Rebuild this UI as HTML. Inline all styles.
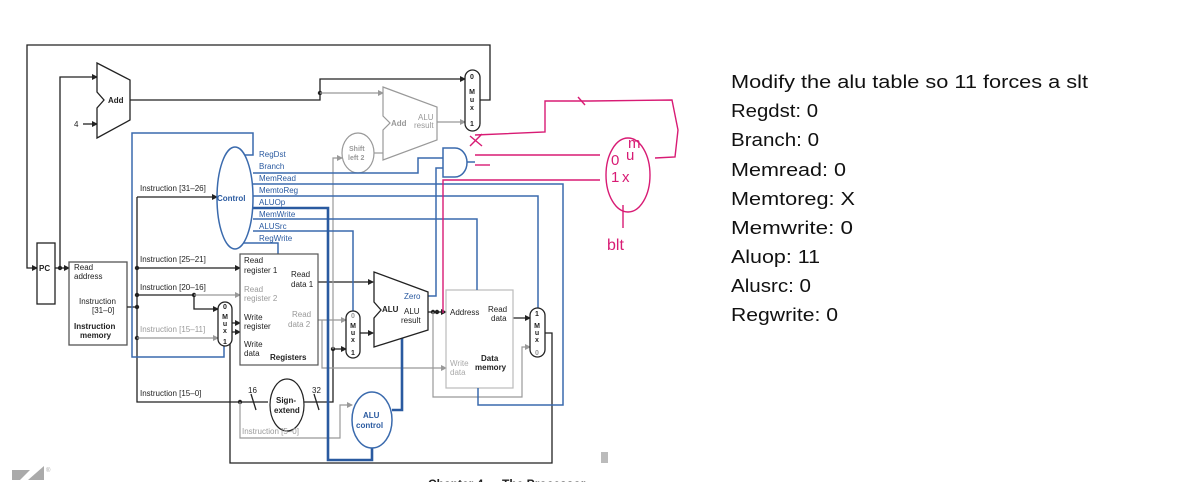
<!DOCTYPE html>
<html><head><meta charset="utf-8"><style>
html,body{margin:0;padding:0;background:#fff;}
svg{display:block;}
text{font-family:"Liberation Sans",sans-serif;}
</style></head><body>
<svg width="1179" height="498" viewBox="0 0 1179 498" xmlns="http://www.w3.org/2000/svg">
<defs>
<marker id="ak" markerWidth="6" markerHeight="6" refX="5" refY="3" orient="auto" markerUnits="userSpaceOnUse"><path d="M0,0 L6,3 L0,6z" fill="#222"/></marker>
<marker id="ag" markerWidth="6" markerHeight="6" refX="5" refY="3" orient="auto" markerUnits="userSpaceOnUse"><path d="M0,0 L6,3 L0,6z" fill="#999"/></marker>
</defs>
<g fill="none" stroke="#222" stroke-width="1.3">
<polyline points="480,100 490,100 490,45 27,45 27,268 37,268" marker-end="url(#ak)"/>
<polyline points="60,268 60,77 97,77" marker-end="url(#ak)"/>
<line x1="83" y1="124" x2="97" y2="124" marker-end="url(#ak)"/>
<polyline points="130,100 320,100 320,79 465,79" marker-end="url(#ak)"/>
<polygon points="97,63 130,80 130,120 97,138 97,108 104,100 97,92" fill="#fff"/>
<rect x="37" y="243" width="18" height="61" fill="#fff"/>
<line x1="55" y1="268" x2="69" y2="268" marker-end="url(#ak)"/>
<rect x="69" y="262" width="58" height="83" stroke="#555" fill="#fff"/>
<line x1="127" y1="307" x2="137" y2="307"/>
<polyline points="137,197 137,402 240,402 268,402"/>
<line x1="137" y1="197" x2="217" y2="197" marker-end="url(#ak)"/>
<line x1="137" y1="268" x2="240" y2="268" marker-end="url(#ak)"/>
<line x1="137" y1="295" x2="194" y2="295"/>
<polyline points="194,295 194,309 218,309" marker-end="url(#ak)"/>
<line x1="232" y1="323" x2="240" y2="323" marker-end="url(#ak)"/>
<line x1="318" y1="282" x2="373" y2="282" marker-end="url(#ak)"/>
<line x1="360" y1="333" x2="373" y2="333" marker-end="url(#ak)"/>
<polyline points="304,402 333,402 333,349 346,349" marker-end="url(#ak)"/>
<polyline points="545,333 552,333 552,463 230,463 230,332 240,332" marker-end="url(#ak)"/>
<line x1="428" y1="312" x2="446" y2="312" marker-end="url(#ak)"/>
<line x1="513" y1="318" x2="530" y2="318" marker-end="url(#ak)"/>
<line x1="251" y1="394" x2="256" y2="410"/>
<line x1="314" y1="394" x2="319" y2="410"/>
</g>
<g fill="#222">
<circle cx="320" cy="93" r="2.2"/><circle cx="60" cy="268" r="2.2"/>
<circle cx="137" cy="268" r="2.2"/><circle cx="137" cy="295" r="2.2"/><circle cx="137" cy="307" r="2.2"/><circle cx="137" cy="338" r="2.2"/>
<circle cx="194" cy="295" r="2.2"/><circle cx="240" cy="402" r="2.2"/><circle cx="333" cy="349" r="2.2"/>
<circle cx="433" cy="312" r="2.2"/><circle cx="437" cy="312" r="2.2"/>
</g>
<g fill="none" stroke="#999" stroke-width="1.2">
<line x1="320" y1="93" x2="383" y2="93" marker-end="url(#ag)"/>
<line x1="437" y1="122" x2="465" y2="122" marker-end="url(#ag)"/>
<polygon points="383,87 437,107 437,140 383,160 383,130 390,123 383,116" fill="#fff"/>
<ellipse cx="358" cy="153" rx="16" ry="20" fill="#fff"/>
<polyline points="333,349 333,158 342,158" marker-end="url(#ag)"/>
<line x1="374" y1="153" x2="383" y2="153"/>
<line x1="194" y1="295" x2="240" y2="295" marker-end="url(#ag)"/>
<line x1="137" y1="338" x2="218" y2="338" marker-end="url(#ag)"/>
<line x1="318" y1="320" x2="346" y2="320" marker-end="url(#ag)"/>
<polyline points="322,320 322,368 446,368" marker-end="url(#ag)"/>
<polyline points="240,402 240,438 340,438 340,405 352,405" marker-end="url(#ag)"/>
<polyline points="433,312 433,397 522,397 522,347 530,347" marker-end="url(#ag)"/>
<rect x="446" y="290" width="67" height="98" fill="none" stroke="#bbb"/>
</g>
<g fill="none" stroke="#3a6aad" stroke-width="1.5">
<polyline points="245,155 253,155 253,133 132,133 132,357 224,357 224,346"/>
<polyline points="253,173 418,173 418,158 443,158"/>
<polyline points="253,184 563,184 563,405 478,405 478,388"/>
<polyline points="253,196 538,196 538,308"/>
<polyline points="253,219 477,219 477,290"/>
<polyline points="253,231 353,231 353,311"/>
<polyline points="243,243 278,243 278,254"/>
<polyline points="428,296 436,296 436,168 443,168"/>
<path d="M443,148 L455,148 A12,14.5 0 0 1 455,177 L443,177 Z" fill="#fff"/>
<line x1="467" y1="162" x2="475" y2="162"/>
</g>
<g fill="none" stroke="#2a5aa0" stroke-width="2.6">
<polyline points="253,208 328,208 328,460 372,460 372,448"/>
<polyline points="392,410 402,410 402,338"/>
</g>
<ellipse cx="235" cy="198" rx="18" ry="51" fill="#fff" stroke="#3a6aad" stroke-width="1.5"/>
<ellipse cx="372" cy="420" rx="20" ry="28" fill="#fff" stroke="#3a6aad" stroke-width="1.5"/>
<rect x="240" y="254" width="78" height="111" fill="#fff" stroke="#555" stroke-width="1.2"/>
<ellipse cx="287" cy="405" rx="17" ry="26" fill="#fff" stroke="#222" stroke-width="1.2"/>
<polygon points="374,272 428,292 428,330 374,347 374,318 381,310 374,302" fill="#fff" stroke="#222" stroke-width="1.3"/>
<g fill="#fff" stroke="#222" stroke-width="1.3">
<rect x="465" y="70" width="15" height="61" rx="7.5"/>
<rect x="218" y="302" width="14" height="44" rx="7"/>
<rect x="346" y="311" width="14" height="47" rx="7"/>
<rect x="530" y="308" width="15" height="49" rx="7.5"/>
</g>
<g font-size="8" fill="#222">
<text x="108" y="103" font-weight="bold">Add</text>
<text x="74" y="127">4</text>
<text x="39" y="271" font-weight="bold">PC</text>
<text x="74" y="270">Read</text><text x="74" y="279">address</text>
<text x="79" y="304">Instruction</text><text x="92" y="313">[31–0]</text>
<text x="74" y="329" font-weight="bold">Instruction</text><text x="80" y="338" font-weight="bold">memory</text>
<text x="140" y="191">Instruction [31–26]</text>
<text x="140" y="262">Instruction [25–21]</text>
<text x="140" y="290">Instruction [20–16]</text>
<text x="140" y="332" fill="#999">Instruction [15–11]</text>
<text x="140" y="396">Instruction [15–0]</text>
<text x="242" y="434" fill="#999">Instruction [5–0]</text>
<text x="244" y="263">Read</text><text x="244" y="273">register 1</text>
<text x="291" y="277">Read</text><text x="291" y="287">data 1</text>
<text x="244" y="292" fill="#999">Read</text><text x="244" y="301" fill="#999">register 2</text>
<text x="244" y="320">Write</text><text x="244" y="329">register</text>
<text x="292" y="317" fill="#999">Read</text><text x="288" y="327" fill="#999">data 2</text>
<text x="244" y="347">Write</text><text x="244" y="356">data</text>
<text x="270" y="360" font-weight="bold">Registers</text>
<text x="248" y="393">16</text><text x="312" y="393">32</text>
<text x="276" y="403" font-weight="bold">Sign-</text><text x="274" y="413" font-weight="bold">extend</text>
<text x="382" y="312" font-weight="bold">ALU</text>
<text x="404" y="314">ALU</text><text x="401" y="323">result</text>
<text x="450" y="315">Address</text>
<text x="488" y="312">Read</text><text x="491" y="321">data</text>
<text x="450" y="366" fill="#aaa">Write</text><text x="450" y="375" fill="#aaa">data</text>
<text x="481" y="361" font-weight="bold">Data</text><text x="475" y="370" font-weight="bold">memory</text>
<text x="391" y="126" fill="#999" font-weight="bold">Add</text>
<text x="418" y="120" fill="#999">ALU</text><text x="414" y="128" fill="#999">result</text>
<text x="349" y="151" fill="#999" font-weight="bold" font-size="7">Shift</text>
<text x="348" y="160" fill="#999" font-weight="bold" font-size="7">left 2</text>
</g>
<g font-size="8" fill="#2a5aa0">
<text x="259" y="157">RegDst</text><text x="259" y="169">Branch</text><text x="259" y="181">MemRead</text>
<text x="259" y="193">MemtoReg</text><text x="259" y="205">ALUOp</text><text x="259" y="217">MemWrite</text>
<text x="259" y="229">ALUSrc</text><text x="259" y="241">RegWrite</text>
<text x="217" y="201" font-weight="bold">Control</text>
<text x="404" y="299">Zero</text>
<text x="363" y="418" font-weight="bold">ALU</text><text x="356" y="428" font-weight="bold">control</text>
</g>
<g font-size="7" font-weight="bold" fill="#222" text-anchor="middle">
<text x="472" y="79">0</text><text x="472" y="94">M</text><text x="472" y="102">u</text><text x="472" y="110">x</text><text x="472" y="126">1</text>
<text x="225" y="309">0</text><text x="225" y="319">M</text><text x="225" y="326">u</text><text x="225" y="333">x</text><text x="225" y="344">1</text>
<text x="353" y="318" fill="#999">0</text><text x="353" y="328">M</text><text x="353" y="335">u</text><text x="353" y="342">x</text><text x="353" y="355">1</text>
<text x="537" y="316">1</text><text x="537" y="328">M</text><text x="537" y="335">u</text><text x="537" y="342">x</text><text x="537" y="355" fill="#999">0</text>
</g>
<g fill="none" stroke="#d81b74" stroke-width="1.4">
<polyline points="475,135 545,132 545,101 590,101 672,100 678,130 675,157 655,158"/>
<line x1="578" y1="97" x2="585" y2="105"/>
<line x1="470" y1="136" x2="482" y2="146"/><line x1="482" y1="134" x2="470" y2="146"/>
<line x1="475" y1="155" x2="600" y2="155"/>
<line x1="475" y1="165" x2="490" y2="165"/>
<polyline points="443,313 443,180 600,180"/>
<ellipse cx="628" cy="175" rx="22" ry="37"/>
<line x1="623" y1="205" x2="623" y2="228"/>
</g>
<g fill="#d81b74" font-size="15">
<text x="611" y="165">0</text><text x="628" y="148">m</text><text x="626" y="160">u</text>
<text x="611" y="182">1</text><text x="622" y="182">x</text>
<text x="607" y="250" font-size="16">blt</text>
</g>
<g font-size="18" fill="#111" lengthAdjust="spacingAndGlyphs">
<text x="731" y="88" textLength="357" lengthAdjust="spacingAndGlyphs">Modify the alu table so 11 forces a slt</text>
<text x="731" y="117" textLength="87" lengthAdjust="spacingAndGlyphs">Regdst: 0</text>
<text x="731" y="146" textLength="88" lengthAdjust="spacingAndGlyphs">Branch: 0</text>
<text x="731" y="176" textLength="115" lengthAdjust="spacingAndGlyphs">Memread: 0</text>
<text x="731" y="205" textLength="124" lengthAdjust="spacingAndGlyphs">Memtoreg: X</text>
<text x="731" y="234" textLength="122" lengthAdjust="spacingAndGlyphs">Memwrite: 0</text>
<text x="731" y="263" textLength="89" lengthAdjust="spacingAndGlyphs">Aluop: 11</text>
<text x="731" y="292" textLength="80" lengthAdjust="spacingAndGlyphs">Alusrc: 0</text>
<text x="731" y="321" textLength="107" lengthAdjust="spacingAndGlyphs">Regwrite: 0</text>
</g>
<polygon points="12,470 30,470 20,480 12,480" fill="#aaa"/>
<polygon points="28,480 44,466 44,480" fill="#aaa"/>
<text x="46" y="472" font-size="6" fill="#aaa">®</text>
<rect x="601" y="452" width="7" height="11" fill="#bbb"/>
<text x="428" y="488" font-size="12" font-weight="bold" fill="#222">Chapter 4 — The Processor</text>
<rect x="0" y="482" width="1179" height="16" fill="#fff"/>
</svg>
</body></html>
